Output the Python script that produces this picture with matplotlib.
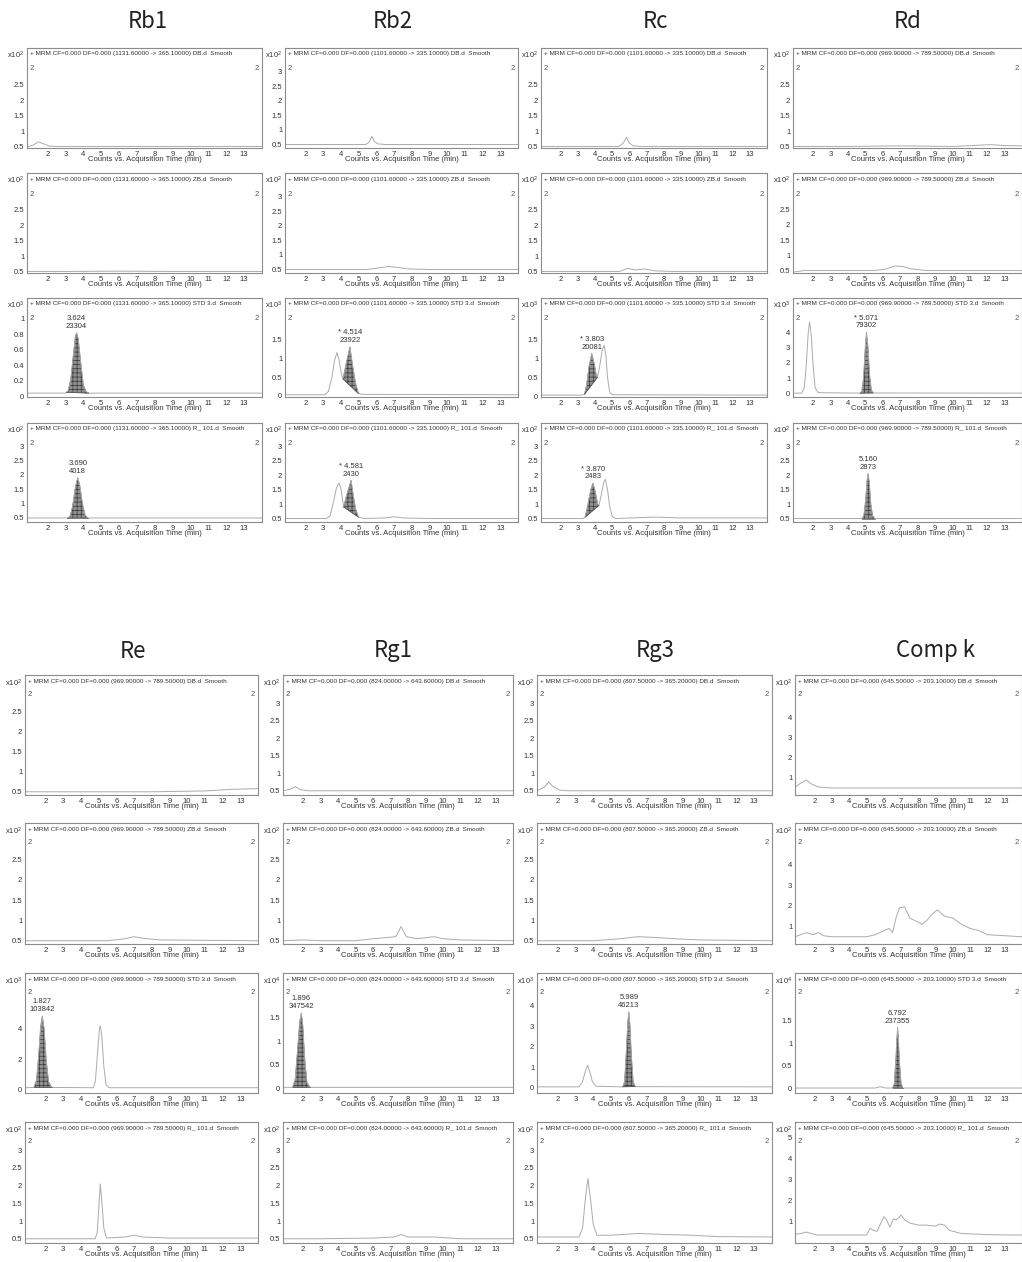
import matplotlib
matplotlib.use("Agg")
import matplotlib.pyplot as plt
import numpy as np

W, H = 1022, 1262

plt.rcParams['font.family'] = ['Liberation Sans', 'DejaVu Sans']
plt.rcParams['hatch.linewidth'] = 0.5
plt.rcParams['mathtext.fontset'] = 'custom'
plt.rcParams['mathtext.rm'] = 'Liberation Sans'
plt.rcParams['mathtext.default'] = 'regular'

# ---------------------------------------------------------------- metadata
compounds = ["Rb1", "Rb2", "Rc", "Rd", "Re", "Rg1", "Rg3", "Comp k"]
transitions = ["1131.60000 -> 365.10000", "1101.60000 -> 335.10000",
               "1101.60000 -> 335.10000", "969.90000 -> 789.50000",
               "969.90000 -> 789.50000", "824.00000 -> 643.60000",
               "807.50000 -> 365.20000", "645.50000 -> 203.10000"]
samples = ["DB.d", "ZB.d", "STD 3.d", "R_ 101.d"]
x_ticks = [2, 3, 4, 5, 6, 7, 8, 9, 10, 11, 12, 13]
x_label = "Counts vs. Acquisition Time (min)"

# ---------------------------------------------------------------- Rb1
rb1_db = [(0.85, 0.48), (1.2, 0.55), (1.5, 0.65), (1.8, 0.58), (2.1, 0.51), (2.6, 0.5), (14.0, 0.5)]
rb1_zb = [(0.85, 0.5), (3.0, 0.5), (6.0, 0.51), (9.0, 0.5), (14.0, 0.5)]
rb1_std = [(0.85, 0.04), (3.0, 0.04), (3.15, 0.07), (3.3, 0.22), (3.45, 0.55), (3.55, 0.76),
           (3.624, 0.82), (3.72, 0.74), (3.85, 0.45), (4.0, 0.15), (4.15, 0.06), (4.3, 0.04), (14.0, 0.04)]
rb1_r101 = [(0.85, 0.5), (3.1, 0.5), (3.25, 0.55), (3.4, 0.9), (3.55, 1.55), (3.69, 1.9), (3.8, 1.65),
            (3.95, 1.0), (4.1, 0.6), (4.25, 0.5), (14.0, 0.5)]
rb1_exp = [2, 2, 3, 2]
rb1_ticks = [[0.5, 1, 1.5, 2, 2.5], [0.5, 1, 1.5, 2, 2.5], [0, 0.2, 0.4, 0.6, 0.8, 1], [0.5, 1, 1.5, 2, 2.5, 3]]
rb1_ylim = [(0.45, 3.7), (0.45, 3.7), (-0.01, 1.27), (0.36, 3.8)]
rb1_shade = {2: (3.05, 4.3), 3: (3.1, 4.25)}
rb1_notes = {2: (3.624, "3.624\n23304"), 3: (3.690, "3.690\n4018")}

# ---------------------------------------------------------------- Rb2
rb2_db = [(0.85, 0.5), (5.4, 0.5), (5.6, 0.58), (5.75, 0.78), (5.9, 0.6), (6.1, 0.52), (6.5, 0.5), (14.0, 0.5)]
rb2_zb = [(0.85, 0.5), (5.5, 0.5), (6.2, 0.56), (6.7, 0.6), (7.2, 0.57), (7.8, 0.52), (9.0, 0.5), (14.0, 0.5)]
rb2_std = [(0.85, 0.03), (3.1, 0.03), (3.3, 0.12), (3.5, 0.5), (3.65, 0.95), (3.78, 1.15), (3.9, 0.95),
           (4.05, 0.55), (4.12, 0.45), (4.3, 0.85), (4.514, 1.3), (4.7, 0.7), (4.85, 0.3), (5.0, 0.06),
           (5.2, 0.04), (14.0, 0.03)]
rb2_r101 = [(0.85, 0.5), (3.2, 0.5), (3.4, 0.6), (3.6, 1.1), (3.75, 1.55), (3.9, 1.73), (4.02, 1.5),
            (4.15, 0.9), (4.35, 1.35), (4.581, 1.82), (4.7, 1.3), (4.85, 0.8), (5.0, 0.55), (5.3, 0.5),
            (6.5, 0.52), (7.0, 0.56), (7.5, 0.52), (9.0, 0.5), (14.0, 0.5)]
rb2_exp = [2, 2, 3, 2]
rb2_ticks = [[0.5, 1, 1.5, 2, 2.5, 3], [0.5, 1, 1.5, 2, 2.5, 3], [0, 0.5, 1, 1.5], [0.5, 1, 1.5, 2, 2.5, 3]]
rb2_ylim = [(0.38, 3.8), (0.38, 3.8), (-0.03, 2.6), (0.38, 3.8)]
rb2_shade = {2: (4.12, 5.0), 3: (4.15, 5.0)}
rb2_notes = {2: (4.514, "* 4.514\n23922"), 3: (4.581, "* 4.581\n2430")}

# ---------------------------------------------------------------- Rc
rc_db = [(0.85, 0.5), (5.4, 0.5), (5.65, 0.62), (5.82, 0.8), (5.98, 0.62), (6.2, 0.52), (6.6, 0.5), (14.0, 0.5)]
rc_zb = [(0.85, 0.5), (5.4, 0.5), (5.9, 0.6), (6.3, 0.55), (6.9, 0.58), (7.5, 0.52), (8.5, 0.5), (14.0, 0.5)]
rc_std = [(0.85, 0.03), (3.2, 0.03), (3.38, 0.05), (3.5, 0.3), (3.65, 0.8), (3.803, 1.13), (3.95, 0.85),
          (4.05, 0.6), (4.13, 0.5), (4.25, 0.75), (4.4, 1.2), (4.52, 1.35), (4.62, 1.1), (4.72, 0.5),
          (4.85, 0.1), (5.0, 0.04), (14.0, 0.03)]
rc_r101 = [(0.85, 0.5), (3.3, 0.5), (3.42, 0.55), (3.6, 1.05), (3.75, 1.5), (3.87, 1.72), (4.0, 1.45),
           (4.15, 1.0), (4.22, 0.95), (4.35, 1.3), (4.5, 1.75), (4.6, 1.85), (4.72, 1.5), (4.85, 0.9),
           (5.0, 0.56), (5.2, 0.5), (6.5, 0.53), (7.5, 0.55), (9.0, 0.52), (14.0, 0.52)]
rc_exp = [2, 2, 3, 2]
rc_ticks = [[0.5, 1, 1.5, 2, 2.5], [0.5, 1, 1.5, 2, 2.5], [0, 0.5, 1, 1.5], [0.5, 1, 1.5, 2, 2.5, 3]]
rc_ylim = [(0.45, 3.7), (0.45, 3.7), (-0.02, 2.6), (0.38, 3.8)]
rc_shade = {2: (3.38, 4.13), 3: (3.42, 4.22)}
rc_notes = {2: (3.803, "* 3.803\n20081"), 3: (3.870, "* 3.870\n2483")}

# ---------------------------------------------------------------- Rd
rd_db = [(0.85, 0.5), (4.0, 0.5), (7.0, 0.52), (10.0, 0.5), (11.5, 0.54), (12.2, 0.56), (13.0, 0.53), (14.0, 0.52)]
rd_zb = [(0.85, 0.45), (1.5, 0.5), (5.5, 0.5), (6.2, 0.55), (6.7, 0.65), (7.2, 0.63), (7.6, 0.56),
         (8.5, 0.5), (14.0, 0.5)]
rd_std = [(0.85, 0.05), (1.35, 0.05), (1.5, 0.4), (1.62, 2.0), (1.72, 3.9), (1.8, 4.65), (1.9, 3.8),
          (2.0, 1.9), (2.12, 0.4), (2.3, 0.08), (4.7, 0.05), (4.8, 0.15), (4.9, 1.0), (5.0, 3.0),
          (5.071, 4.0), (5.15, 3.1), (5.25, 1.2), (5.35, 0.25), (5.45, 0.06), (14.0, 0.05)]
rd_r101 = [(0.85, 0.5), (4.8, 0.5), (4.92, 0.6), (5.03, 1.2), (5.1, 1.8), (5.16, 2.05), (5.23, 1.75),
           (5.32, 1.0), (5.42, 0.6), (5.55, 0.5), (14.0, 0.5)]
rd_exp = [2, 2, 3, 2]
rd_ticks = [[0.5, 1, 1.5, 2, 2.5], [0.5, 1, 1.5, 2, 2.5], [0, 1, 2, 3, 4], [0.5, 1, 1.5, 2, 2.5, 3]]
rd_ylim = [(0.45, 3.7), (0.42, 3.7), (-0.2, 6.2), (0.38, 3.8)]
rd_shade = {2: (4.7, 5.45), 3: (4.8, 5.55)}
rd_notes = {2: (5.071, "* 5.071\n79302"), 3: (5.160, "5.160\n2873")}

# ---------------------------------------------------------------- Re
re_db = [(0.85, 0.5), (8.0, 0.5), (11.0, 0.52), (12.5, 0.56), (14.0, 0.58)]
re_zb = [(0.85, 0.5), (5.5, 0.5), (6.5, 0.55), (7.0, 0.6), (7.5, 0.56), (8.5, 0.52), (14.0, 0.5)]
re_std = [(0.85, 0.1), (1.35, 0.12), (1.5, 0.6), (1.62, 2.2), (1.73, 4.1), (1.827, 4.85), (1.93, 4.0),
          (2.05, 1.9), (2.18, 0.5), (2.35, 0.12), (4.7, 0.1), (4.82, 0.5), (4.95, 2.5), (5.05, 4.0),
          (5.1, 4.2), (5.18, 3.6), (5.3, 1.5), (5.42, 0.3), (5.6, 0.1), (14.0, 0.1)]
re_r101 = [(0.85, 0.5), (4.8, 0.5), (4.92, 0.65), (5.02, 1.4), (5.1, 2.05), (5.18, 1.6), (5.3, 0.8),
           (5.45, 0.52), (6.5, 0.55), (7.0, 0.6), (7.5, 0.55), (9.0, 0.52), (14.0, 0.52)]
re_exp = [2, 2, 3, 2]
re_ticks = [[0.5, 1, 1.5, 2, 2.5], [0.5, 1, 1.5, 2, 2.5], [0, 2, 4], [0.5, 1, 1.5, 2, 2.5, 3]]
re_ylim = [(0.42, 3.4), (0.42, 3.4), (-0.25, 7.7), (0.38, 3.8)]
re_shade = {2: (1.35, 2.35)}
re_notes = {2: (1.827, "1.827\n103842")}

# ---------------------------------------------------------------- Rg1
rg1_db = [(0.85, 0.5), (1.3, 0.55), (1.55, 0.62), (1.85, 0.53), (2.3, 0.5), (14.0, 0.5)]
rg1_zb = [(0.85, 0.5), (2.0, 0.52), (3.0, 0.5), (5.0, 0.5), (6.0, 0.55), (6.8, 0.58), (7.3, 0.6),
          (7.6, 0.85), (7.9, 0.6), (8.5, 0.55), (9.5, 0.6), (10.0, 0.55), (11.0, 0.52), (14.0, 0.5)]
rg1_std = [(0.85, 0.02), (1.4, 0.02), (1.55, 0.2), (1.68, 0.8), (1.8, 1.4), (1.896, 1.6), (1.98, 1.35),
           (2.1, 0.6), (2.22, 0.12), (2.4, 0.02), (14.0, 0.02)]
rg1_r101 = [(0.85, 0.5), (3.0, 0.5), (6.0, 0.52), (7.2, 0.55), (7.6, 0.62), (8.0, 0.55), (9.5, 0.55),
            (11.0, 0.5), (14.0, 0.5)]
rg1_exp = [2, 2, 4, 2]
rg1_ticks = [[0.5, 1, 1.5, 2, 2.5, 3], [0.5, 1, 1.5, 2, 2.5], [0, 0.5, 1, 1.5], [0.5, 1, 1.5, 2, 2.5, 3]]
rg1_ylim = [(0.38, 3.8), (0.42, 3.4), (-0.1, 2.45), (0.38, 3.8)]
rg1_shade = {2: (1.4, 2.4)}
rg1_notes = {2: (1.896, "1.896\n347542")}

# ---------------------------------------------------------------- Rg3
rg3_db = [(0.85, 0.5), (1.25, 0.6), (1.5, 0.75), (1.75, 0.62), (2.1, 0.52), (2.6, 0.5), (14.0, 0.5)]
rg3_zb = [(0.85, 0.5), (4.0, 0.5), (5.5, 0.55), (6.5, 0.6), (7.5, 0.58), (8.5, 0.55), (10.0, 0.52), (14.0, 0.5)]
rg3_std = [(0.85, 0.05), (3.2, 0.05), (3.4, 0.3), (3.55, 0.8), (3.68, 1.1), (3.8, 0.8), (3.95, 0.3),
           (4.15, 0.08), (5.65, 0.05), (5.75, 0.3), (5.85, 1.8), (5.93, 3.2), (5.989, 3.7), (6.05, 3.1),
           (6.13, 1.6), (6.23, 0.3), (6.35, 0.06), (14.0, 0.05)]
rg3_r101 = [(0.85, 0.55), (3.2, 0.55), (3.4, 0.8), (3.55, 1.6), (3.7, 2.2), (3.85, 1.6), (4.0, 0.9),
            (4.2, 0.6), (5.0, 0.6), (6.5, 0.65), (8.0, 0.62), (9.5, 0.6), (11.0, 0.56), (14.0, 0.55)]
rg3_exp = [2, 2, 3, 2]
rg3_ticks = [[0.5, 1, 1.5, 2, 2.5, 3], [0.5, 1, 1.5, 2, 2.5], [0, 1, 2, 3, 4], [0.5, 1, 1.5, 2, 2.5, 3]]
rg3_ylim = [(0.38, 3.8), (0.42, 3.4), (-0.25, 5.6), (0.38, 3.8)]
rg3_shade = {2: (5.65, 6.35)}
rg3_notes = {2: (5.989, "5.989\n46213")}

# ---------------------------------------------------------------- Comp k
ck_db = [(0.85, 0.55), (1.2, 0.75), (1.5, 0.9), (1.8, 0.7), (2.2, 0.55), (3.0, 0.5), (14.0, 0.5)]
ck_zb = [(0.85, 0.5), (1.5, 0.7), (1.9, 0.6), (2.2, 0.7), (2.5, 0.55), (3.0, 0.5), (5.0, 0.5),
         (5.5, 0.6), (6.0, 0.8), (6.3, 0.9), (6.5, 0.7), (6.7, 1.4), (6.9, 1.9), (7.2, 1.95), (7.5, 1.4),
         (8.0, 1.2), (8.2, 1.1), (8.5, 1.3), (8.8, 1.6), (9.1, 1.8), (9.5, 1.5), (10.0, 1.4), (10.5, 1.1),
         (11.0, 0.9), (11.5, 0.8), (12.0, 0.6), (13.0, 0.55), (14.0, 0.5)]
ck_std = [(0.85, 0.01), (5.5, 0.01), (5.8, 0.04), (6.1, 0.01), (6.5, 0.01), (6.6, 0.1), (6.7, 0.7),
          (6.75, 1.1), (6.792, 1.35), (6.84, 1.1), (6.9, 0.6), (7.0, 0.1), (7.1, 0.01), (14.0, 0.01)]
ck_r101 = [(0.85, 0.42), (1.2, 0.45), (1.5, 0.52), (1.8, 0.45), (2.1, 0.38), (5.0, 0.38), (5.2, 0.7),
           (5.4, 0.6), (5.6, 0.55), (5.85, 1.0), (6.0, 1.25), (6.15, 1.1), (6.35, 0.75), (6.55, 1.15),
           (6.7, 1.1), (6.85, 1.2), (7.0, 1.33), (7.2, 1.1), (7.5, 0.95), (8.0, 0.85), (8.5, 0.85),
           (9.0, 0.8), (9.2, 0.9), (9.5, 0.85), (9.8, 0.6), (10.5, 0.45), (12.0, 0.4), (13.0, 0.38), (14.0, 0.38)]
ck_exp = [2, 2, 4, 2]
ck_ticks = [[1, 2, 3, 4], [1, 2, 3, 4], [0, 0.5, 1, 1.5], [1, 2, 3, 4, 5]]
ck_ylim = [(0.15, 6.15), (0.15, 6.0), (-0.1, 2.55), (0.0, 5.75)]
ck_shade = {2: (6.5, 7.1)}
ck_notes = {2: (6.792, "6.792\n237355")}

traces = [[rb1_db, rb1_zb, rb1_std, rb1_r101], [rb2_db, rb2_zb, rb2_std, rb2_r101],
          [rc_db, rc_zb, rc_std, rc_r101], [rd_db, rd_zb, rd_std, rd_r101],
          [re_db, re_zb, re_std, re_r101], [rg1_db, rg1_zb, rg1_std, rg1_r101],
          [rg3_db, rg3_zb, rg3_std, rg3_r101], [ck_db, ck_zb, ck_std, ck_r101]]
exps = [rb1_exp, rb2_exp, rc_exp, rd_exp, re_exp, rg1_exp, rg3_exp, ck_exp]
yticks = [rb1_ticks, rb2_ticks, rc_ticks, rd_ticks, re_ticks, rg1_ticks, rg3_ticks, ck_ticks]
ylims = [rb1_ylim, rb2_ylim, rc_ylim, rd_ylim, re_ylim, rg1_ylim, rg3_ylim, ck_ylim]
shades = [rb1_shade, rb2_shade, rc_shade, rd_shade, re_shade, rg1_shade, rg3_shade, ck_shade]
notes = [rb1_notes, rb2_notes, rc_notes, rd_notes, re_notes, rg1_notes, rg3_notes, ck_notes]

# ---------------------------------------------------------------- layout (pixels)
col_px = [[(27, 262), (285, 518), (541, 767), (793, 1022)],
          [(25, 258), (283, 513), (537, 772), (795, 1022)]]
row_px = [[(48, 148), (173, 273), (298, 397), (423, 522)],
          [(675, 795), (823, 944), (973, 1093), (1122, 1243)]]
title_x = [[148, 393, 655, 908], [133, 393, 655, 935]]
title_y = [22, 651]
inner_label_y = [0.79, 0.84]

LINE = "#ababab"
TXT = "#333333"
FRAME = "#8c8c8c"

fig = plt.figure(figsize=(W / 100, H / 100), dpi=100)
fig.patch.set_facecolor("white")


def rect(l, r, t, b):
    return [l / W, 1 - b / H, (r - l) / W, (b - t) / H]


for k, name in enumerate(compounds):
    g, c = divmod(k, 4)
    fig.text(title_x[g][c] / W, 1 - title_y[g] / H, name, ha="center", va="center",
             fontsize=16, family=["Noto Sans CJK KR", "DejaVu Sans"], color="#222222")
    for r in range(4):
        l, rr = col_px[g][c]
        t, b = row_px[g][r]
        ax = fig.add_axes(rect(l, rr, t, b))
        pts = np.array(traces[k][r], dtype=float)
        tt, yy = pts[:, 0], pts[:, 1]
        ax.plot(tt, yy, color=LINE, lw=0.7)

        if r in shades[k]:
            t0, t1 = shades[k][r]
            m = (tt >= t0) & (tt <= t1)
            ts = np.concatenate([[t0], tt[m], [t1]])
            ys = np.interp(ts, tt, yy)
            base = np.interp(ts, [t0, t1], [ys[0], ys[-1]])
            ax.fill_between(ts, base, ys, facecolor="#8f8f8f", edgecolor="#3a3a3a",
                            hatch="++++", linewidth=0.3)
            ax.plot([t0, t1], [ys[0], ys[-1]], color="#555555", lw=0.5)

        if r in notes[k]:
            tn, txt = notes[k][r]
            yn = np.interp(tn, tt, yy)
            ax.annotate(txt, xy=(tn, yn), xytext=(0, 2), textcoords="offset points",
                        ha="center", va="bottom", fontsize=5.5, color=TXT, linespacing=1.15)

        ax.set_xlim(0.85, 14.0)
        ax.set_ylim(*ylims[k][r])
        ax.set_xticks(x_ticks)
        ax.set_xticklabels([str(v) for v in x_ticks])
        ax.set_yticks(yticks[k][r])
        ax.set_yticklabels([f"{v:g}" for v in yticks[k][r]])
        ax.tick_params(length=0, labelsize=5.5, pad=2, colors=TXT)
        for s in ax.spines.values():
            s.set_color(FRAME)
            s.set_linewidth(0.8)

        ax.text(0.012, 0.965, f"+ MRM CF=0.000 DF=0.000 ({transitions[k]}) {samples[r]}  Smooth",
                transform=ax.transAxes, ha="left", va="top", fontsize=4.6, color=TXT)
        ax.text(0.012, inner_label_y[g], "2", transform=ax.transAxes, ha="left", va="center",
                fontsize=5.5, color="#555555")
        ax.text(0.985, inner_label_y[g], "2", transform=ax.transAxes, ha="right", va="center",
                fontsize=5.5, color="#555555")
        ax.text(-0.014, 0.93, r"x10$^{%d}$" % exps[k][r], transform=ax.transAxes,
                ha="right", va="center", fontsize=5.5, color=TXT)
        ax.annotate(x_label, xy=(0.5, 0), xycoords="axes fraction", xytext=(0, -5.5),
                    textcoords="offset points", ha="center", va="top", fontsize=5.5, color=TXT)

fig.savefig("out.png", dpi=100, facecolor="white")
